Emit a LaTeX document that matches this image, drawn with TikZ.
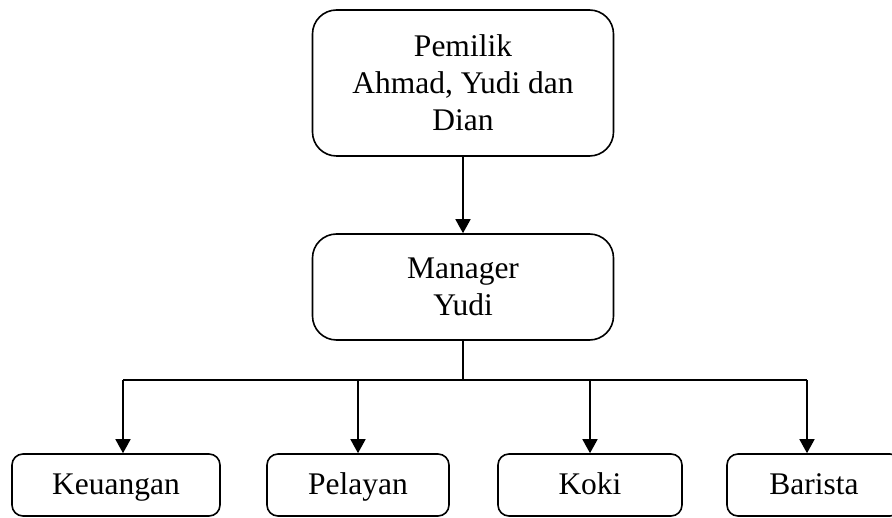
\documentclass[tikz,border=0pt]{standalone}
\usepackage{fontspec}
\setmainfont{Liberation Serif}
\usetikzlibrary{arrows.meta}

\tikzset{
  bigbox/.style   = {draw, line width=1.6pt, rounded corners=24pt, align=center,
                     font=\fontsize{31.5}{37}\selectfont, inner sep=0pt},
  smallbox/.style = {draw, line width=1.6pt, rounded corners=11pt, align=center,
                     font=\fontsize{31.5}{37}\selectfont, inner sep=0pt,
                     text height=22pt, text depth=2pt, minimum height=62pt},
  link/.style     = {line width=1.6pt, -{Triangle[length=14pt,width=15pt]}}
}

\begin{document}
\begin{tikzpicture}[x=1pt, y=-1pt]

  \useasboundingbox (0,0) rectangle (892,518);

  % Owner and manager:
  \node[bigbox, minimum width=301pt, minimum height=146pt] (pemilik) at (463, 83)
       {Pemilik\\Ahmad, Yudi dan\\Dian};
  \node[bigbox, minimum width=301pt, minimum height=106pt] (manager) at (463,287)
       {Manager\\Yudi};

  % Staff:
  \node[smallbox, minimum width=208pt] (keuangan) at (116,485) {Keuangan};
  \node[smallbox, minimum width=182pt] (pelayan)  at (358,485) {Pelayan};
  \node[smallbox, minimum width=184pt] (koki)     at (590,485) {Koki};
  \node[smallbox, minimum width=174pt] (barista)  at (814,485) {Barista};

  % Connectors:
  \draw[link] (pemilik.south) -- (manager.south |- manager.north);
  \draw[line width=1.6pt] (manager.south) -- (463,380) coordinate (bus);
  \draw[line width=1.6pt] ([xshift=7pt]keuangan.north |- bus) -- ([xshift=-7pt]barista.north |- bus);

  \draw[link] ([xshift=7pt]keuangan.north |- bus) -- ([xshift=7pt]keuangan.north);
  \draw[link] (pelayan.north |- bus) -- (pelayan.north);
  \draw[link] (koki.north |- bus) -- (koki.north);
  \draw[link] ([xshift=-7pt]barista.north |- bus) -- ([xshift=-7pt]barista.north);

\end{tikzpicture}
\end{document}
